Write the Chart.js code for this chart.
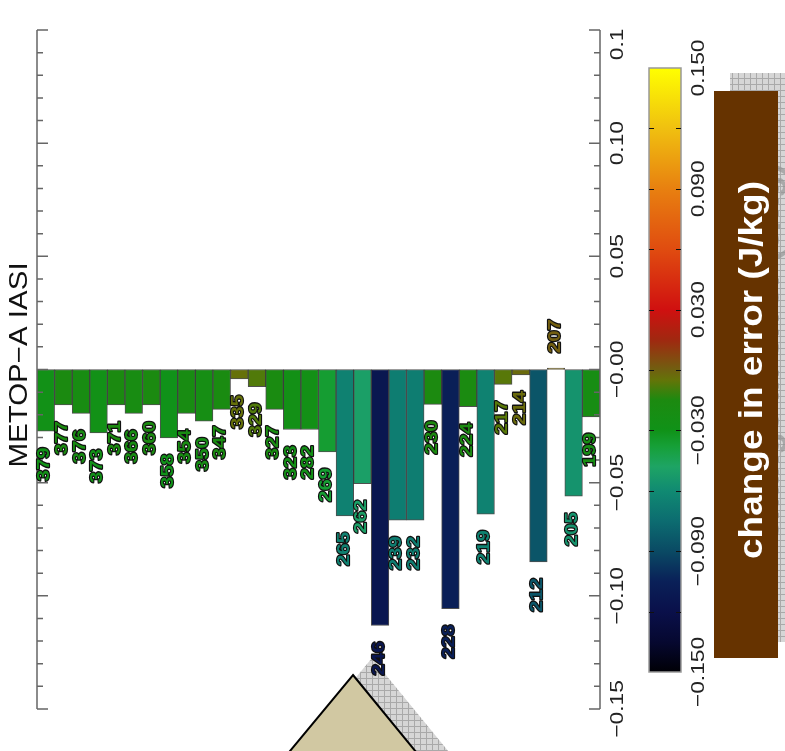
<!DOCTYPE html>
<html>
<head>
<meta charset="utf-8">
<script src="https://cdn.jsdelivr.net/npm/chart.js@4/dist/chart.umd.min.js"></script>
<style>
  html, body { margin: 0; padding: 0; background: #fff; }
  #wrap { width: 785px; height: 751px; overflow: hidden; }
</style>
</head>
<body>
<div id="wrap"><canvas id="c" width="785" height="751"></canvas></div>
<script>
// IASI channel numbers (one bar per channel) and the change in forecast error, J/kg
const channels = ['379','377','376','373','371','366','360','358','354','350','347',
                  '335','329','327','323','282','269','265','262','246','239','232',
                  '230','228','224','219','217','214','212','207','205','199'];
const errorChange = [-0.0273,-0.0157,-0.0194,-0.0280,-0.0157,-0.0194,-0.0157,-0.0302,
                     -0.0194,-0.0228,-0.0176,-0.0042,-0.0076,-0.0176,-0.0265,-0.0265,
                     -0.0364,-0.0647,-0.0504,-0.1131,-0.0666,-0.0666,-0.0154,-0.1057,
                     -0.0164,-0.0639,-0.0066,-0.0024,-0.0850,0.0006,-0.0560,-0.0209];

// value axis
const axisTicks = [-0.15, -0.10, -0.05, 0, 0.05, 0.10, 0.15];
const axisTickLabels = ['\u22120.15','\u22120.10','\u22120.05','\u22120.00','0.05','0.10','0.15'];

// colour bar
const cbarTicks = [-0.15, -0.09, -0.03, 0.03, 0.09, 0.15];
const cbarTickLabels = ['\u22120.150','\u22120.090','\u22120.030','0.030','0.090','0.150'];
const cbarTitle = 'change in error (J/kg)';
const plotTitle = 'METOP\u2212A IASI';

// colour table: value -> rgb
const cmap = [
  [-0.150, [0, 0, 6]],
  [-0.135, [6, 8, 48]],
  [-0.120, [10, 16, 74]],
  [-0.105, [10, 32, 88]],
  [-0.090, [10, 74, 100]],
  [-0.075, [12, 108, 112]],
  [-0.060, [16, 138, 114]],
  [-0.048, [30, 164, 100]],
  [-0.038, [22, 160, 56]],
  [-0.030, [16, 146, 24]],
  [-0.015, [28, 138, 16]],
  [-0.005, [100, 116, 8]],
  [ 0.000, [112, 96, 16]],
  [ 0.015, [160, 40, 16]],
  [ 0.030, [208, 16, 16]],
  [ 0.060, [224, 76, 16]],
  [ 0.090, [232, 128, 16]],
  [ 0.120, [240, 192, 16]],
  [ 0.150, [255, 255, 0]]
];
function colourFor(v) {
  if (v <= cmap[0][0]) return cmap[0][1];
  for (let i = 1; i < cmap.length; i++) {
    if (v <= cmap[i][0]) {
      const [v0, c0] = cmap[i - 1], [v1, c1] = cmap[i];
      const t = (v - v0) / (v1 - v0);
      return c0.map((c, k) => Math.round(c + (c1[k] - c) * t));
    }
  }
  return cmap[cmap.length - 1][1];
}
const rgb = c => `rgb(${c[0]},${c[1]},${c[2]})`;

// text drawn reading bottom-to-top
function vText(ctx, str, x, y, o) {
  ctx.save();
  ctx.translate(x, y);
  ctx.rotate(-Math.PI / 2);
  ctx.scale(o.sx || 1, 1);
  ctx.font = o.font;
  ctx.textAlign = o.align || 'center';
  ctx.textBaseline = 'middle';
  if (o.stroke) {
    ctx.lineJoin = 'round';
    ctx.lineWidth = o.lw || 2;
    ctx.strokeStyle = o.stroke;
    ctx.strokeText(str, 0, 0);
  }
  ctx.fillStyle = o.fill;
  ctx.fillText(str, 0, 0);
  ctx.restore();
}

function hatch(ctx) {
  const p = document.createElement('canvas');
  p.width = 6; p.height = 6;
  const g = p.getContext('2d');
  g.fillStyle = '#d6d6d6'; g.fillRect(0, 0, 6, 6);
  g.fillStyle = '#a9a9a9'; g.fillRect(0, 0, 6, 1); g.fillRect(0, 0, 1, 6);
  return ctx.createPattern(p, 'repeat');
}

const decorations = {
  id: 'decorations',
  beforeDraw(chart) {
    const ctx = chart.ctx;
    ctx.save();
    ctx.fillStyle = '#fff';
    ctx.fillRect(0, 0, chart.width, chart.height);
    ctx.restore();
  },
  afterDatasetsDraw(chart) {
    const ctx = chart.ctx;
    const y = chart.scales.y;
    const area = chart.chartArea;
    const L = area.left, R = area.right;
    const top = y.getPixelForValue(0.15), bot = y.getPixelForValue(-0.15);
    ctx.save();

    // side axes with inward ticks
    ctx.strokeStyle = '#666';
    ctx.lineWidth = 1.5;
    ctx.beginPath();
    ctx.moveTo(L, top); ctx.lineTo(L, bot);
    ctx.moveTo(R, top); ctx.lineTo(R, bot);
    for (let k = -15; k <= 15; k++) {
      const py = y.getPixelForValue(k / 100);
      const len = (k % 5 === 0) ? 11 : 6;
      ctx.moveTo(L, py); ctx.lineTo(L + len, py);
      ctx.moveTo(R, py); ctx.lineTo(R - len, py);
    }
    ctx.stroke();

    // value-axis labels
    ctx.save();
    ctx.beginPath();
    ctx.rect(R, 29, 60, chart.height);
    ctx.clip();
    axisTicks.forEach((v, i) => {
      vText(ctx, axisTickLabels[i], 618, y.getPixelForValue(v) + (v === 0.15 ? 8 : 0),
        { font: '19px "Liberation Sans", Arial, sans-serif', fill: '#222', sx: 1.2 });
    });
    ctx.restore();

    // title
    vText(ctx, plotTitle, 20, 365,
      { font: '25px "Liberation Sans", Arial, sans-serif', fill: '#111', sx: 1.18 });

    // colour bar
    const cbL = 649, cbR = 681, cbT = 68, cbB = 672;
    const cy = v => cbB - (v + 0.15) / 0.3 * (cbB - cbT);
    const grad = ctx.createLinearGradient(0, cbB, 0, cbT);
    cmap.forEach(([v, c]) => grad.addColorStop((v + 0.15) / 0.3, rgb(c)));
    ctx.fillStyle = grad;
    ctx.fillRect(cbL, cbT, cbR - cbL, cbB - cbT);
    ctx.strokeStyle = '#999';
    ctx.lineWidth = 1.5;
    ctx.strokeRect(cbL, cbT, cbR - cbL, cbB - cbT);
    ctx.strokeStyle = '#111';
    ctx.lineWidth = 1;
    ctx.beginPath();
    for (let v = -0.12; v < 0.121; v += 0.03) {
      const py = Math.round(cy(v)) + 0.5;
      ctx.moveTo(cbL, py); ctx.lineTo(cbL + 5, py);
      ctx.moveTo(cbR, py); ctx.lineTo(cbR - 5, py);
    }
    ctx.stroke();
    cbarTicks.forEach((v, i) => {
      vText(ctx, cbarTickLabels[i], 699, cy(v),
        { font: '19px "Liberation Sans", Arial, sans-serif', fill: '#222', sx: 1.2 });
    });

    // colour bar title panel with its hatched shadow
    ctx.fillStyle = hatch(ctx);
    ctx.fillRect(730, 73, 70, 569);
    ctx.save();
    ctx.beginPath(); ctx.rect(730, 73, 70, 569); ctx.clip();
    vText(ctx, cbarTitle, 770, 352,
      { font: 'bold 33px "Liberation Sans", Arial, sans-serif', fill: 'rgba(150,150,150,0.7)', sx: 1.12 });
    ctx.restore();
    ctx.fillStyle = '#663300';
    ctx.fillRect(714, 91, 64, 567);
    vText(ctx, cbarTitle, 753, 370,
      { font: 'bold 33px "Liberation Sans", Arial, sans-serif', fill: '#fff', sx: 1.12 });

    // callout triangle with hatched shadow
    const tri = (dx, dy) => {
      ctx.beginPath();
      ctx.moveTo(353 + dx, 675 + dy);
      ctx.lineTo(439 + dx, 780 + dy);
      ctx.lineTo(266 + dx, 780 + dy);
      ctx.closePath();
    };
    tri(19, -17);
    ctx.fillStyle = hatch(ctx);
    ctx.fill();
    tri(0, 0);
    ctx.fillStyle = '#d1c8a2';
    ctx.fill();
    ctx.strokeStyle = '#000';
    ctx.lineWidth = 2;
    ctx.stroke();

    // channel labels at the end of each bar
    const meta = chart.getDatasetMeta(0);
    meta.data.forEach((bar, i) => {
      const v = errorChange[i];
      const col = rgb(colourFor(v));
      const neg = v < 0;
      vText(ctx, channels[i], bar.x - 1, neg ? bar.y + 16 : bar.y - 15,
        { font: 'bold 17px "Liberation Sans", Arial, sans-serif', fill: col,
          stroke: '#111', lw: 2.2, sx: 1.2, align: neg ? 'right' : 'left' });
    });
    ctx.restore();
  }
};

new Chart(document.getElementById('c'), {
  type: 'bar',
  data: {
    labels: channels,
    datasets: [{
      data: errorChange,
      backgroundColor: errorChange.map(v => rgb(colourFor(v))),
      borderColor: 'rgba(20,20,20,0.75)',
      borderWidth: 1,
      borderSkipped: false,
      barPercentage: 1,
      categoryPercentage: 1
    }]
  },
  options: {
    responsive: false,
    animation: false,
    events: [],
    layout: { padding: { left: 37, right: 185, top: 30, bottom: 42 } },
    plugins: { legend: { display: false }, tooltip: { enabled: false } },
    scales: {
      x: { display: false, offset: true },
      y: { display: false, min: -0.15, max: 0.15 }
    }
  },
  plugins: [decorations]
});
</script>
</body>
</html>
